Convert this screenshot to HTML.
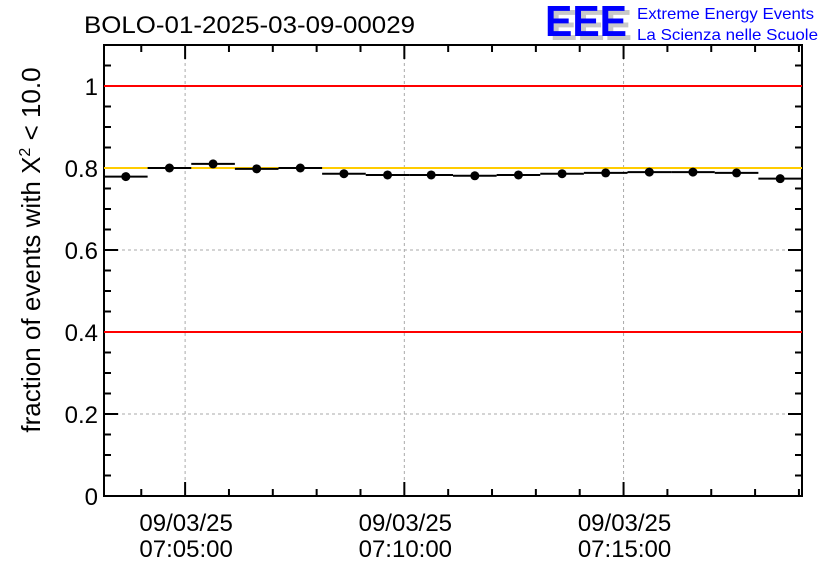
<!DOCTYPE html>
<html><head><meta charset="utf-8"><style>
body{margin:0;background:#fff;}
svg{display:block;font-family:"Liberation Sans",sans-serif;}
</style></head><body>
<svg id="chart" width="836" height="572" viewBox="0 0 836 572">
<rect width="836" height="572" fill="#fff"/>
<text x="84" y="33" font-size="24.5" textLength="331" lengthAdjust="spacingAndGlyphs">BOLO-01-2025-03-09-00029</text>
<g>
<text x="550" y="40" font-size="44" font-weight="bold" fill="#c8c8c8" textLength="82" lengthAdjust="spacingAndGlyphs">EEE</text>
<text x="545" y="36" font-size="44" font-weight="bold" fill="#0000ff" textLength="82" lengthAdjust="spacingAndGlyphs">EEE</text>
<text x="637" y="19" font-size="16" fill="#0000ff" textLength="177" lengthAdjust="spacingAndGlyphs">Extreme Energy Events</text>
<text x="637" y="40" font-size="16" fill="#0000ff" textLength="181" lengthAdjust="spacingAndGlyphs">La Scienza nelle Scuole</text>
</g>
<g id="grid"></g>
<g id="axes"></g>
<g id="marks"></g>
<text transform="translate(40,250) rotate(-90)" text-anchor="middle" font-size="26">fraction of events with X<tspan dy="-10" font-size="16">2</tspan><tspan dy="10"> &lt; 10.0</tspan></text>
</svg>
<script>
const binCount = 16;
const values = [0.779,0.800,0.810,0.798,0.800,0.786,0.783,0.783,0.781,0.783,0.786,0.788,0.790,0.790,0.788,0.774];
const yTicks = [0,0.2,0.4,0.6,0.8,1];
const yTickLabels = ["0","0.2","0.4","0.6","0.8","1"];
const xMajorMinutes = [0,5,10];
const xMajorLabels = [["09/03/25","07:05:00"],["09/03/25","07:10:00"],["09/03/25","07:15:00"]];
const refLines = [1.0,0.4];
const targetLine = 0.8;
const xMin = -1.85, xMax = 14.07, yMin = 0, yMax = 1.1;
const binStart = -1.85, binWidth = 0.995;

const L=104,R=802,T=45,B=496;
const sx=v=>L+(v-xMin)/(xMax-xMin)*(R-L);
const sy=v=>B-(v-yMin)/(yMax-yMin)*(B-T);
const NS="http://www.w3.org/2000/svg";
function mk(tag,attrs,parent){const e=document.createElementNS(NS,tag);for(const k in attrs)e.setAttribute(k,attrs[k]);parent.appendChild(e);return e;}
const grid=document.getElementById('grid'),axes=document.getElementById('axes'),marks=document.getElementById('marks');
xMajorMinutes.forEach(m=>{const g=mk('line',{x1:sx(m),x2:sx(m),y1:T,y2:B,stroke:'#aaa','stroke-dasharray':'3,3','stroke-width':1},grid);

});
yTicks.forEach(v=>{if(v===0)return;const g=mk('line',{x1:L,x2:R,y1:sy(v),y2:sy(v),stroke:'#aaa','stroke-dasharray':'3,3','stroke-width':1},grid);

});
refLines.forEach(v=>{const l=mk('line',{x1:L,x2:R,y1:sy(v),y2:sy(v),stroke:'#ff0000','stroke-width':2},marks);

});
const tl=mk('line',{x1:L,x2:R,y1:sy(targetLine),y2:sy(targetLine),stroke:'#ffcc00','stroke-width':2},marks);


values.forEach((v,i)=>{const x0=sx(binStart+i*binWidth),x1=sx(binStart+(i+1)*binWidth),xc=(x0+x1)/2;
const h=mk('line',{x1:x0,x2:x1,y1:sy(v),y2:sy(v),stroke:'#000','stroke-width':2},marks);


const c=mk('circle',{cx:xc,cy:sy(v),r:4.5,fill:'#000'},marks);

});
const fr=mk('rect',{x:L,y:T,width:R-L,height:B-T,fill:'none',stroke:'#000','stroke-width':2},axes);


for(let k=0;k<=22;k++){const v=k*0.05;const len=(k%4===0)?14:7;const y=sy(v);
mk('line',{x1:L,x2:L+len,y1:y,y2:y,stroke:'#000','stroke-width':2},axes);
mk('line',{x1:R,x2:R-len,y1:y,y2:y,stroke:'#000','stroke-width':2},axes);}
yTicks.forEach((v,i)=>{const t=mk('text',{x:L-6,y:sy(v)+9,'text-anchor':'end','font-size':24},axes);t.textContent=yTickLabels[i];

});
for(let m=-1;m<=14;m++){const x=sx(m);if(x<L||x>R)continue;const len=(m%5===0)?14:7;
mk('line',{x1:x,x2:x,y1:B,y2:B-len,stroke:'#000','stroke-width':2},axes);
mk('line',{x1:x,x2:x,y1:T,y2:T+len,stroke:'#000','stroke-width':2},axes);}
xMajorMinutes.forEach((m,i)=>{[0,1].forEach(j=>{const t=mk('text',{x:sx(m)+1,y:531+j*26,'text-anchor':'middle','font-size':24},axes);t.textContent=xMajorLabels[i][j];

});});
</script>
</body></html>
